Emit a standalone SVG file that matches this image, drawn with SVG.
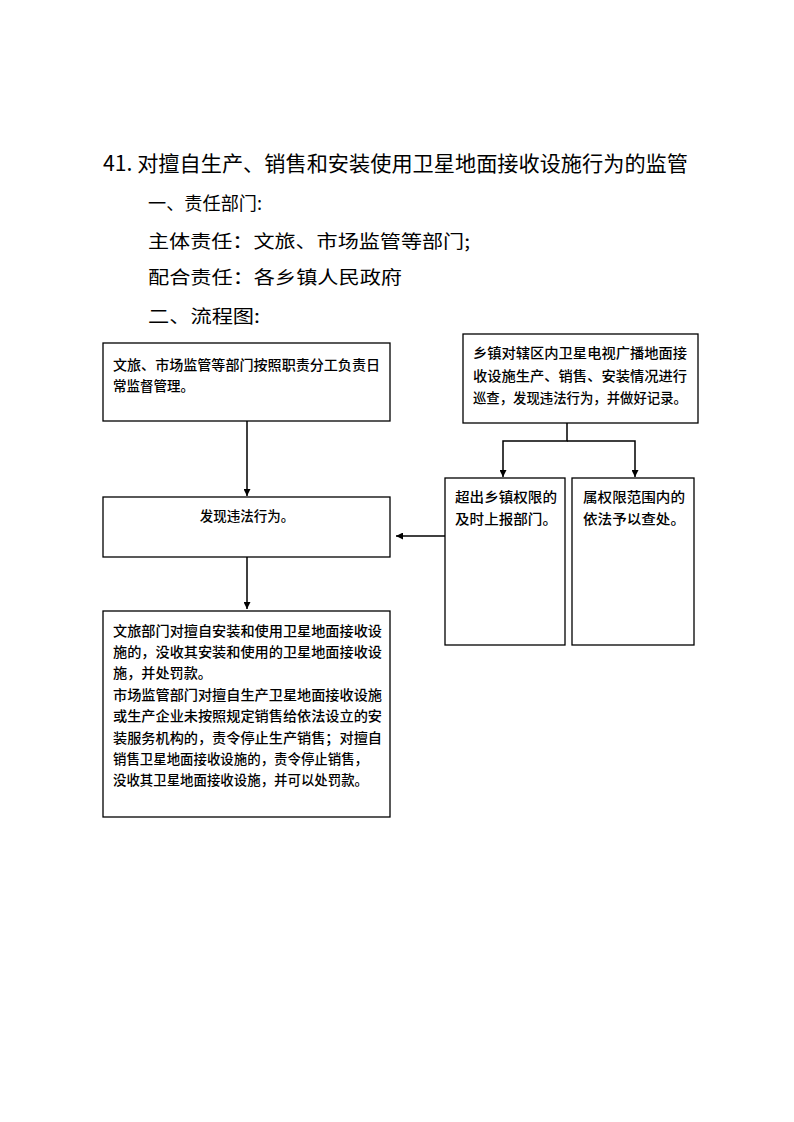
<svg xmlns="http://www.w3.org/2000/svg" width="794" height="1122" viewBox="0 0 794 1122">
<defs>
<style>
.h{font-family:"Noto Sans CJK SC","Liberation Sans",sans-serif;fill:#000}
.t{font-family:"Noto Sans CJK SC","Liberation Sans",sans-serif;font-size:18px;fill:#000}
.b{font-family:"Noto Sans CJK SC",sans-serif;font-size:13.5px;font-weight:500;fill:#000}
.box{fill:#fff;stroke:#000;stroke-width:1.3}
.ln{fill:none;stroke:#000;stroke-width:1.5}
</style>
<marker id="ar" viewBox="0 0 10 10" refX="10" refY="5" markerWidth="7" markerHeight="7" markerUnits="userSpaceOnUse" orient="auto">
<path d="M0,0 L10,5 L0,10 z" fill="#000"/>
</marker>
</defs>
<rect width="794" height="1122" fill="#fff"/>
<text class="h" x="103" y="171" font-size="21" textLength="585" lengthAdjust="spacingAndGlyphs">41. 对擅自生产、销售和安装使用卫星地面接收设施行为的监管</text>
<text class="t" x="148" y="210" textLength="114" lengthAdjust="spacingAndGlyphs">一、责任部门:</text>
<text class="t" x="148" y="248" textLength="322" lengthAdjust="spacingAndGlyphs">主体责任：文旅、市场监管等部门;</text>
<text class="t" x="148" y="284" textLength="254" lengthAdjust="spacingAndGlyphs">配合责任：各乡镇人民政府</text>
<text class="t" x="148" y="323" textLength="112" lengthAdjust="spacingAndGlyphs">二、流程图:</text>

<g id="connectors">
<line class="ln" x1="247" y1="421" x2="247" y2="496" marker-end="url(#ar)"/>
<line class="ln" x1="247" y1="557" x2="247" y2="609" marker-end="url(#ar)"/>
<polyline class="ln" points="567,423 567,441 503,441 503,477" marker-end="url(#ar)"/>
<polyline class="ln" points="567,441 635,441 635,477" marker-end="url(#ar)"/>
<line class="ln" x1="445" y1="536" x2="396" y2="536" marker-end="url(#ar)"/>
</g>

<g id="n1">
<rect class="box" x="103" y="343" width="287" height="78"/>
<text class="b" x="113" y="370" textLength="267" lengthAdjust="spacingAndGlyphs">文旅、市场监管等部门按照职责分工负责日</text>
<text class="b" x="113" y="391">常监督管理。</text>
</g>
<g id="n2">
<rect class="box" x="463" y="334" width="235" height="89"/>
<text class="b" x="473" y="358" textLength="214" lengthAdjust="spacingAndGlyphs">乡镇对辖区内卫星电视广播地面接</text>
<text class="b" x="473" y="381" textLength="214" lengthAdjust="spacingAndGlyphs">收设施生产、销售、安装情况进行</text>
<text class="b" x="473" y="403" textLength="214" lengthAdjust="spacingAndGlyphs">巡查，发现违法行为，并做好记录。</text>
</g>
<g id="n3">
<rect class="box" x="103" y="497" width="287" height="60"/>
<text class="b" x="247" y="521" text-anchor="middle">发现违法行为。</text>
</g>
<g id="n4">
<rect class="box" x="445" y="478" width="120" height="167"/>
<text class="b" x="455" y="502" textLength="102" lengthAdjust="spacingAndGlyphs">超出乡镇权限的</text>
<text class="b" x="455" y="524" textLength="102" lengthAdjust="spacingAndGlyphs">及时上报部门。</text>
</g>
<g id="n5">
<rect class="box" x="572" y="478" width="122" height="167"/>
<text class="b" x="583" y="502" textLength="102" lengthAdjust="spacingAndGlyphs">属权限范围内的</text>
<text class="b" x="583" y="524" textLength="102" lengthAdjust="spacingAndGlyphs">依法予以查处。</text>
</g>
<g id="n6">
<rect class="box" x="103" y="611" width="287" height="206"/>
<text class="b" x="113" y="636" textLength="269" lengthAdjust="spacingAndGlyphs">文旅部门对擅自安装和使用卫星地面接收设</text>
<text class="b" x="113" y="657" textLength="269" lengthAdjust="spacingAndGlyphs">施的，没收其安装和使用的卫星地面接收设</text>
<text class="b" x="113" y="678" textLength="99" lengthAdjust="spacingAndGlyphs">施，并处罚款。</text>
<text class="b" x="113" y="700" textLength="269" lengthAdjust="spacingAndGlyphs">市场监管部门对擅自生产卫星地面接收设施</text>
<text class="b" x="113" y="721" textLength="269" lengthAdjust="spacingAndGlyphs">或生产企业未按照规定销售给依法设立的安</text>
<text class="b" x="113" y="743" textLength="269" lengthAdjust="spacingAndGlyphs">装服务机构的，责令停止生产销售；对擅自</text>
<text class="b" x="113" y="764" textLength="255" lengthAdjust="spacingAndGlyphs">销售卫星地面接收设施的，责令停止销售，</text>
<text class="b" x="113" y="785" textLength="255" lengthAdjust="spacingAndGlyphs">没收其卫星地面接收设施，并可以处罚款。</text>
</g>
</svg>
